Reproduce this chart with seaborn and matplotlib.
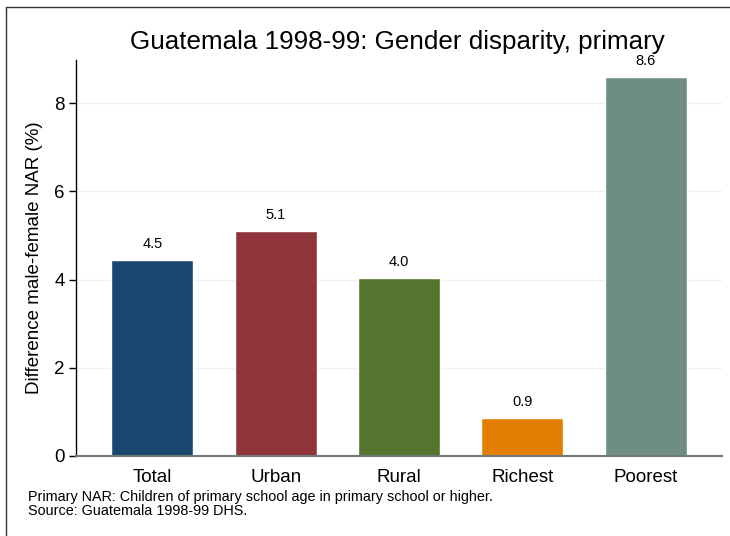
import matplotlib
matplotlib.use("Agg")
import matplotlib.pyplot as plt
import pandas as pd
import seaborn as sns
from matplotlib.lines import Line2D

categories = ["Total", "Urban", "Rural", "Richest", "Poorest"]
values = [4.45, 5.1, 4.04, 0.87, 8.59]
labels = ["4.5", "5.1", "4.0", "0.9", "8.6"]
colors = ["#1a476f", "#90353b", "#55752f", "#e37e00", "#6e8e84"]
yticks = [0, 2, 4, 6, 8]

sns.set_theme(style="white")
plt.rcParams["font.family"] = ["Liberation Sans", "DejaVu Sans"]

df = pd.DataFrame({"group": categories, "diff": values})

fig = plt.figure(figsize=(7.3, 5.36), dpi=100)
ax = fig.add_axes([76 / 730, 1 - 456 / 536, (722 - 76) / 730, (456 - 60) / 536])

sns.barplot(data=df, x="group", y="diff", hue="group", palette=colors,
            legend=False, width=0.665, saturation=1, ax=ax)

for p, lab in zip(ax.patches, labels):
    ax.text(p.get_x() + p.get_width() / 2, p.get_height() + 0.2, lab,
            ha="center", va="bottom", fontsize=10.5, color="black")

ax.set_ylim(0, 8.98)
ax.set_xlim(-0.62, 4.62)
ax.set_yticks(yticks)
ax.yaxis.grid(True, color="#eaf2f3", linewidth=1)
ax.set_axisbelow(True)
for s in ["top", "right"]:
    ax.spines[s].set_visible(False)
ax.spines["left"].set_color("black")
ax.spines["left"].set_linewidth(1)
ax.spines["bottom"].set_color("#6e7a7a")
ax.spines["bottom"].set_linewidth(1.5)
ax.tick_params(axis="y", left=True, length=5, width=1, color="black",
               labelsize=13.5, pad=3, labelcolor="black")
ax.tick_params(axis="x", bottom=False, labelsize=13.5, pad=3, labelcolor="black")
ax.set_xlabel("")
ax.set_ylabel("Difference male-female NAR (%)", fontsize=13.5, color="black", labelpad=8)

fig.text(0.544, 1 - 42 / 536, "Guatemala 1998-99: Gender disparity, primary",
         ha="center", va="center", fontsize=18.7, color="black")
fig.text(28 / 730, 1 - 504 / 536,
         "Primary NAR: Children of primary school age in primary school or higher.\nSource: Guatemala 1998-99 DHS.",
         ha="left", va="center", fontsize=10.4, color="black", linespacing=0.92)

# outer frame (top and left visible)
fig.add_artist(Line2D([6 / 730, 1], [1 - 7 / 536, 1 - 7 / 536], transform=fig.transFigure,
                      color="#333333", linewidth=1))
fig.add_artist(Line2D([6 / 730, 6 / 730], [0, 1 - 7 / 536], transform=fig.transFigure,
                      color="#333333", linewidth=1))

fig.savefig("out.png", dpi=100)
